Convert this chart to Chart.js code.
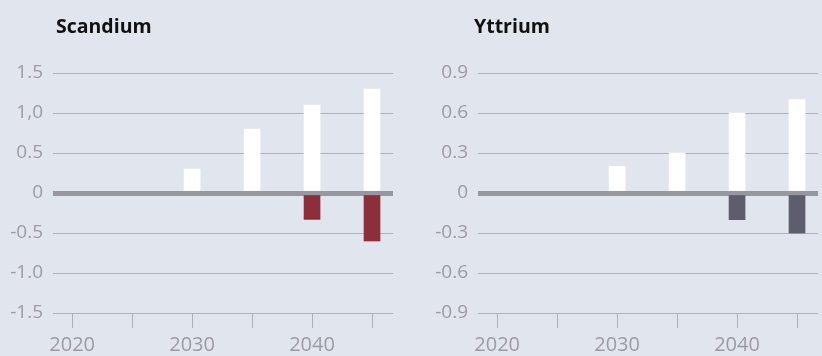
<!DOCTYPE html>
<html>
<head>
<meta charset="utf-8">
<script src="https://cdn.jsdelivr.net/npm/chart.js@4"></script>
<style>
  html, body { margin: 0; padding: 0; background: #e1e5ee; }
  #wrap { position: relative; width: 822px; height: 356px; overflow: hidden; }
  .panel { position: absolute; top: 0; width: 411px; height: 356px; }
  .title {
    position: absolute; top: 16px; margin: 0;
    font: bold 19.5px "Open Sans", sans-serif; line-height: 19px; color: #111;
  }
</style>
</head>
<body>
<div id="wrap">
  <div class="panel" style="left:0"><canvas id="scandium" width="411" height="356"></canvas></div>
  <div class="panel" style="left:411px"><canvas id="yttrium" width="411" height="356"></canvas></div>
  <div class="title" style="left:56px">Scandium</div>
  <div class="title" style="left:474px">Yttrium</div>
</div>
<script>
const years = [2030, 2035, 2040, 2045];
const xTicks = [2020, 2025, 2030, 2035, 2040, 2045];
const xTickLabels = ['2020', '', '2030', '', '2040', ''];

const scandiumUp = [0.3, 0.8, 1.1, 1.3];
const scandiumDown = [null, null, -0.33, -0.6];
const scandiumTicks = [-1.5, -1.0, -0.5, 0, 0.5, 1.0, 1.5];
const scandiumTickLabels = ['-1.5', '-1.0', '-0.5', '0', '0.5', '1,0', '1.5'];

const yttriumUp = [0.2, 0.3, 0.6, 0.7];
const yttriumDown = [null, null, -0.2, -0.3];
const yttriumTicks = [-0.9, -0.6, -0.3, 0, 0.3, 0.6, 0.9];
const yttriumTickLabels = ['-0.9', '-0.6', '-0.3', '0', '0.3', '0.6', '0.9'];

const labelColor = '#9d9aa6';
const gridColor = '#b0afba';
const zeroColor = '#98969f';

function points(values) {
  return values.map((v, i) => ({ x: years[i], y: v }));
}

function makeChart(id, up, down, downColor, ticks, tickLabels, axisWidth, padRight) {
  new Chart(document.getElementById(id), {
    type: 'bar',
    data: {
      datasets: [
        { data: points(up), backgroundColor: '#ffffff', barThickness: 16 },
        { data: points(down), backgroundColor: downColor, barThickness: 16 },
      ],
    },
    options: {
      responsive: false,
      animation: false,
      layout: { padding: { top: 73, right: padRight, left: 0, bottom: 0 } },
      plugins: { legend: { display: false }, tooltip: { enabled: false } },
      scales: {
        x: {
          type: 'linear',
          stacked: true,
          offset: false,
          min: 2018.4,
          max: 2046.75,
          afterBuildTicks: (scale) => { scale.ticks = xTicks.map((v) => ({ value: v })); },
          afterFit: (scale) => { scale.height = 43; },
          border: { display: false },
          grid: { offset: false, drawOnChartArea: false, tickLength: 15, tickColor: gridColor, lineWidth: 1 },
          ticks: {
            padding: 5,
            color: labelColor,
            font: { family: 'Open Sans', size: 20 },
            callback: (v, i) => xTickLabels[i],
          },
        },
        y: {
          stacked: true,
          min: ticks[0],
          max: ticks[ticks.length - 1],
          afterBuildTicks: (scale) => { scale.ticks = ticks.map((v) => ({ value: v })); },
          afterFit: (scale) => { scale.width = axisWidth; },
          border: { display: false },
          grid: {
            drawTicks: false,
            color: (ctx) => (ctx.tick && ctx.tick.value === 0 ? zeroColor : gridColor),
            lineWidth: (ctx) => (ctx.tick && ctx.tick.value === 0 ? 5 : 1),
          },
          ticks: {
            padding: 10,
            color: labelColor,
            font: { family: 'Open Sans', size: 19 },
            callback: (v, i) => tickLabels[i],
          },
        },
      },
    },
  });
}

makeChart('scandium', scandiumUp, scandiumDown, '#8c2f3a', scandiumTicks, scandiumTickLabels, 53, 18);
makeChart('yttrium', yttriumUp, yttriumDown, '#5c5e6e', yttriumTicks, yttriumTickLabels, 67, 4);
</script>
</body>
</html>
